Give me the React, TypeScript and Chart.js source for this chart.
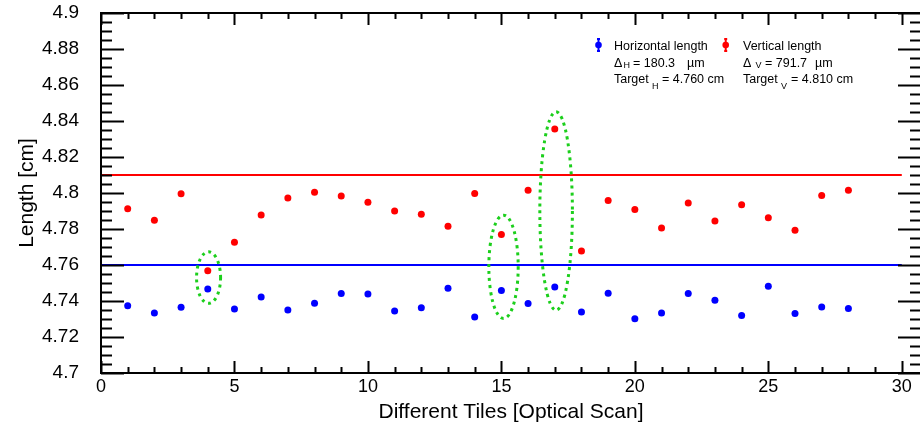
import React, { useEffect, useRef } from "react";
import { Chart, registerables } from "chart.js";

Chart.register(...registerables);

// ---- data ----
const tiles = [1, 2, 3, 4, 5, 6, 7, 8, 9, 10, 11, 12, 13, 14, 15, 16, 17, 18, 19, 20, 21, 22, 23, 24, 25, 26, 27, 28];
const horizontalLength = [4.7374, 4.7333, 4.7365, 4.7467, 4.7356, 4.7422, 4.735, 4.7387, 4.7441, 4.7439, 4.7344, 4.7363, 4.7471, 4.7311, 4.7459, 4.7386, 4.7478, 4.7339, 4.7443, 4.7302, 4.7333, 4.7441, 4.7404, 4.7319, 4.7482, 4.733, 4.7367, 4.7359];
const verticalLength = [4.7913, 4.7848, 4.7996, 4.7568, 4.7726, 4.7878, 4.7972, 4.8004, 4.7983, 4.7948, 4.79, 4.7882, 4.7815, 4.7997, 4.7769, 4.8015, 4.8356, 4.7678, 4.7959, 4.7909, 4.7806, 4.7944, 4.7844, 4.7935, 4.7863, 4.7793, 4.7986, 4.8015];
const targetRange = [0, 30];
const targetH = 4.76;
const targetV = 4.81;
const deltaH = "180.3";
const deltaV = "791.7";

// highlighted (outlier) regions: centre x, centre y, half-width (tiles), half-height (cm)
const highlightX = [4.03, 15.08, 17.05];
const highlightY = [4.753, 4.759, 4.79];
const highlightRx = [0.45, 0.55, 0.61];
const highlightRy = [0.0143, 0.0287, 0.0551];

const xTickLabels = [0, 5, 10, 15, 20, 25, 30];
const xMinorStep = 1;
const yMin = 4.7;
const yMax = 4.9;
const yMajorStep = 0.02;
const yMinorStep = 0.005;

const FONT = "'Liberation Sans', Arial, Helvetica, sans-serif";

const framePlugin = {
  id: "framePlugin",
  afterDatasetsDraw(chart: any) {
    const ctx = chart.ctx;
    const xs = chart.scales.x;
    const ys = chart.scales.y;
    ctx.save();
    ctx.strokeStyle = "#1ccf1c";
    ctx.lineWidth = 3;
    ctx.setLineDash([3, 4]);
    for (let i = 0; i < highlightX.length; i++) {
      const cx = xs.getPixelForValue(highlightX[i]);
      const cy = ys.getPixelForValue(highlightY[i]);
      const rx = Math.abs(xs.getPixelForValue(highlightX[i] + highlightRx[i]) - cx);
      const ry = Math.abs(ys.getPixelForValue(highlightY[i] + highlightRy[i]) - cy);
      ctx.beginPath();
      ctx.ellipse(cx, cy, rx, ry, 0, 0, Math.PI * 2);
      ctx.stroke();
    }
    ctx.restore();
  },
  afterDraw(chart: any) {
    const ctx = chart.ctx;
    const { left, right, top, bottom } = chart.chartArea;
    const xs = chart.scales.x;
    const ys = chart.scales.y;
    ctx.save();
    ctx.strokeStyle = "#000";
    ctx.lineWidth = 2;
    ctx.setLineDash([]);
    ctx.strokeRect(left, top, right - left, bottom - top);
    ctx.beginPath();
    const xMax = xTickLabels[xTickLabels.length - 1];
    for (let v = 0; v <= xMax + 1e-9; v += xMinorStep) {
      const major = xTickLabels.includes(Math.round(v));
      const len = major ? 12 : 6;
      const px = Math.round(xs.getPixelForValue(v)) + 0.5;
      ctx.moveTo(px, bottom);
      ctx.lineTo(px, bottom - len);
      ctx.moveTo(px, top);
      ctx.lineTo(px, top + len);
    }
    const n = Math.round((yMax - yMin) / yMinorStep);
    const per = Math.round(yMajorStep / yMinorStep);
    for (let i = 0; i <= n; i++) {
      const v = yMin + i * yMinorStep;
      const major = i % per === 0;
      const len = major ? 23 : 11;
      const py = Math.round(ys.getPixelForValue(v)) + 0.5;
      ctx.moveTo(left, py);
      ctx.lineTo(left + len, py);
      ctx.moveTo(right, py);
      ctx.lineTo(right - len, py);
    }
    ctx.stroke();

    // legend
    const drawMarker = (x: number, y: number, color: string) => {
      ctx.fillStyle = color;
      ctx.strokeStyle = color;
      ctx.lineWidth = 2;
      ctx.beginPath();
      ctx.moveTo(x, y - 6);
      ctx.lineTo(x, y + 6);
      ctx.moveTo(x - 1.5, y - 6);
      ctx.lineTo(x + 1.5, y - 6);
      ctx.moveTo(x - 1.5, y + 6);
      ctx.lineTo(x + 1.5, y + 6);
      ctx.stroke();
      ctx.beginPath();
      ctx.arc(x, y, 3.3, 0, Math.PI * 2);
      ctx.fill();
    };
    drawMarker(598.5, 45, "rgb(0,0,255)");
    drawMarker(725.7, 45, "rgb(255,0,0)");
    ctx.fillStyle = "#000";
    ctx.textBaseline = "alphabetic";
    ctx.textAlign = "left";
    const big = "12.5px " + FONT;
    const small = "9px " + FONT;
    const txt = (s: string, x: number, y: number, f: string) => {
      ctx.font = f;
      ctx.fillText(s, x, y);
    };
    // column 1
    txt("Horizontal length", 614, 49.5, big);
    txt("\u0394", 614, 66.5, big);
    txt("H", 623.5, 68, small);
    txt("= " + deltaH, 633, 66.5, big);
    txt("\u00b5m", 687, 66.5, big);
    txt("Target", 614, 82.5, big);
    txt("H", 652, 89, small);
    txt("= " + targetH.toFixed(3) + " cm", 662, 82.5, big);
    // column 2
    txt("Vertical length", 743, 49.5, big);
    txt("\u0394", 743, 66.5, big);
    txt("V", 755.5, 68, small);
    txt("= " + deltaV, 765, 66.5, big);
    txt("\u00b5m", 815, 66.5, big);
    txt("Target", 743, 82.5, big);
    txt("V", 781, 89, small);
    txt("= " + targetV.toFixed(3) + " cm", 791, 82.5, big);
    ctx.restore();
  },
};

export default function App() {
  const ref = useRef<HTMLCanvasElement>(null);
  useEffect(() => {
    if (!ref.current) return;
    const chart = new Chart(ref.current, {
      type: "scatter",
      data: {
        datasets: [
          {
            label: "Target H",
            type: "line",
            data: targetRange.map((x) => ({ x, y: targetH })),
            borderColor: "rgb(0,0,255)",
            borderWidth: 2,
            pointRadius: 0,
            showLine: true,
          },
          {
            label: "Target V",
            type: "line",
            data: targetRange.map((x) => ({ x, y: targetV })),
            borderColor: "rgb(255,0,0)",
            borderWidth: 2,
            pointRadius: 0,
            showLine: true,
          },
          {
            label: "Horizontal length",
            data: tiles.map((x, i) => ({ x, y: horizontalLength[i] })),
            backgroundColor: "rgb(0,0,255)",
            borderWidth: 0,
            pointRadius: 3.5,
          },
          {
            label: "Vertical length",
            data: tiles.map((x, i) => ({ x, y: verticalLength[i] })),
            backgroundColor: "rgb(255,0,0)",
            borderWidth: 0,
            pointRadius: 3.5,
          },
        ],
      },
      options: {
        animation: false,
        responsive: false,
        devicePixelRatio: 1,
        layout: { padding: { top: 13, right: 1, bottom: 0, left: 0 } },
        plugins: { legend: { display: false }, tooltip: { enabled: false } },
        scales: {
          x: {
            type: "linear",
            position: "bottom",
            min: 0,
            max: 30.72,
            grid: { display: false, drawTicks: false },
            border: { display: false },
            afterFit: (s: any) => {
              s.height = 54;
              s.paddingLeft = 0;
              s.paddingRight = 0;
            },
            afterBuildTicks: (s: any) => {
              s.ticks = xTickLabels.map((v) => ({ value: v }));
            },
            ticks: {
              color: "#000",
              padding: 3,
              maxRotation: 0,
              font: { family: FONT, size: 18 },
              callback: (v: any) => String(v),
            },
            title: {
              display: true,
              text: "Different Tiles [Optical Scan]",
              color: "#000",
              font: { family: FONT, size: 21, lineHeight: 1.2 },
              padding: { top: 0, bottom: 2 },
            },
          },
          y: {
            type: "linear",
            min: yMin,
            max: yMax,
            grid: { display: false, drawTicks: false },
            border: { display: false },
            afterFit: (s: any) => {
              s.width = 101;
              s.paddingTop = 0;
              s.paddingBottom = 0;
            },
            ticks: {
              color: "#000",
              stepSize: yMajorStep,
              padding: 22,
              font: { family: FONT, size: 19 },
              callback: (v: any) => String(parseFloat(Number(v).toFixed(3))),
            },
            title: {
              display: true,
              text: "Length [cm]",
              color: "#000",
              font: { family: FONT, size: 21, lineHeight: 1.2 },
              padding: { top: 15, bottom: 0 },
            },
          },
        },
      },
      plugins: [framePlugin],
    });
    return () => chart.destroy();
  }, []);
  return (
    <canvas
      ref={ref}
      width={925}
      height={427}
      style={{ position: "fixed", left: 0, top: 0, width: 925, height: 427, background: "#fff" }}
    />
  );
}
